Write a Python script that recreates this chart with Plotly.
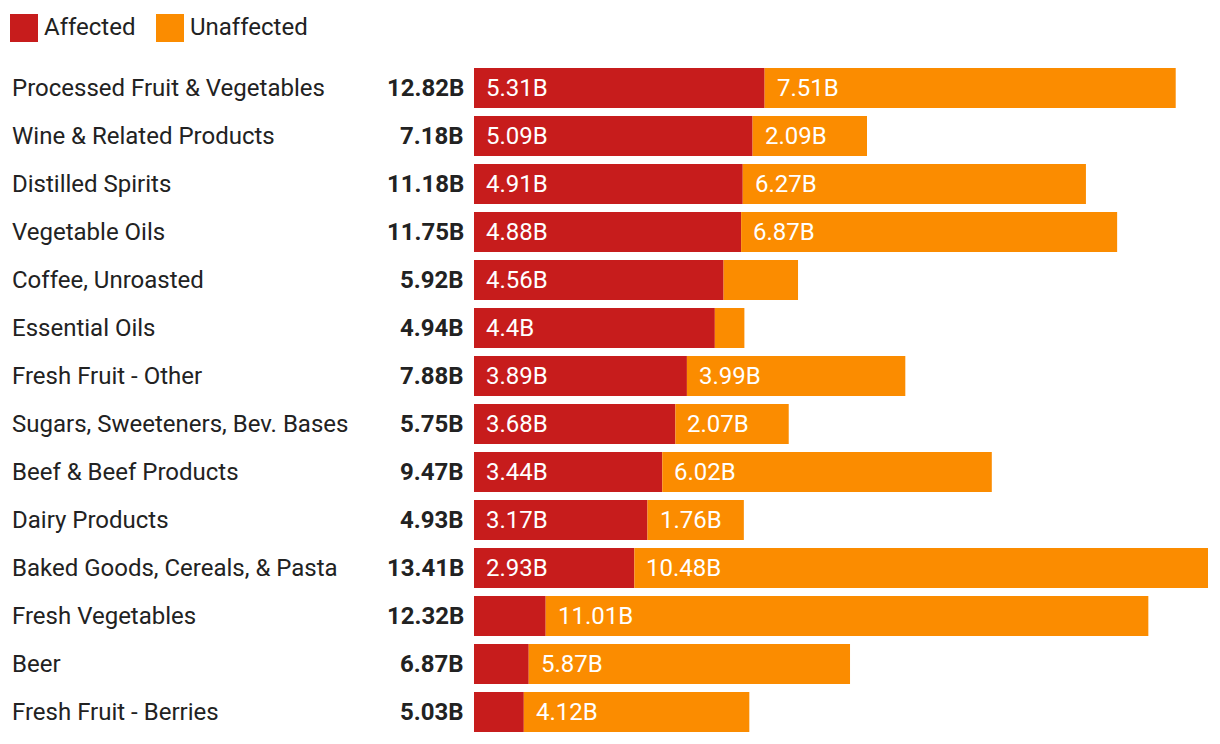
import plotly.graph_objects as go

categories = [
    "Processed Fruit & Vegetables", "Wine & Related Products", "Distilled Spirits",
    "Vegetable Oils", "Coffee, Unroasted", "Essential Oils", "Fresh Fruit - Other",
    "Sugars, Sweeteners, Bev. Bases", "Beef & Beef Products", "Dairy Products",
    "Baked Goods, Cereals, & Pasta", "Fresh Vegetables", "Beer", "Fresh Fruit - Berries",
]
affected = [5.31, 5.09, 4.91, 4.88, 4.56, 4.4, 3.89, 3.68, 3.44, 3.17, 2.93, 1.31, 1.00, 0.91]
unaffected = [7.51, 2.09, 6.27, 6.87, 1.36, 0.54, 3.99, 2.07, 6.02, 1.76, 10.48, 11.01, 5.87, 4.12]
totals = [12.82, 7.18, 11.18, 11.75, 5.92, 4.94, 7.88, 5.75, 9.47, 4.93, 13.41, 12.32, 6.87, 5.03]

RED = "#c71c1c"
ORANGE = "#fb8c00"
FONT = "Roboto"
FS = 24
W, H = 1220, 744
ML, MR, MT, MB = 474, 12, 64, 8
MIN_LABEL = 1.5  # values narrower than this have no inside label


def fmt(v):
    s = f"{v:.2f}".rstrip("0").rstrip(".")
    return s + "B"


fig = go.Figure()
fig.add_trace(go.Bar(y=categories, x=affected, orientation="h", marker_color=RED,
                     marker_line_width=0, name="Affected", hoverinfo="skip"))
fig.add_trace(go.Bar(y=categories, x=unaffected, base=affected, orientation="h",
                     marker_color=ORANGE, marker_line_width=0, name="Unaffected",
                     hoverinfo="skip"))

pw = W - ML - MR
ph = H - MT - MB


def px(pix):
    return (pix - ML) / pw


def py(pix):
    return (H - MB - pix) / ph


ann = []
for c, a, u, t in zip(categories, affected, unaffected, totals):
    ann.append(dict(xref="paper", yref="y", x=px(10), y=c, text=c,
                    xanchor="left", yanchor="middle", showarrow=False,
                    font=dict(family=FONT, size=FS, color="#222222")))
    ann.append(dict(xref="paper", yref="y", x=px(466), y=c, text=f"<b>{fmt(t)}</b>",
                    xanchor="right", yanchor="middle", showarrow=False,
                    font=dict(family=FONT, size=FS, color="#222222")))
    if a >= MIN_LABEL:
        ann.append(dict(xref="x", yref="y", x=0, y=c, text=fmt(a), xshift=10,
                        xanchor="left", yanchor="middle", showarrow=False,
                        font=dict(family=FONT, size=FS, color="white")))
    if u >= MIN_LABEL:
        ann.append(dict(xref="x", yref="y", x=a, y=c, text=fmt(u), xshift=10,
                        xanchor="left", yanchor="middle", showarrow=False,
                        font=dict(family=FONT, size=FS, color="white")))

# legend
shapes = []
for x0, col, label in [(10, RED, "Affected"), (156, ORANGE, "Unaffected")]:
    shapes.append(dict(type="rect", xref="paper", yref="paper",
                       x0=px(x0), x1=px(x0 + 28),
                       y0=py(42), y1=py(14), fillcolor=col, line_width=0))
    ann.append(dict(xref="paper", yref="paper", x=px(x0 + 32), y=py(27),
                    text=label, xanchor="left", yanchor="middle", showarrow=False,
                    font=dict(family=FONT, size=FS, color="#222222")))

fig.update_layout(
    width=W, height=H, barmode="overlay", bargap=1 / 6,
    margin=dict(l=ML, r=MR, t=MT, b=MB),
    paper_bgcolor="white", plot_bgcolor="white", showlegend=False,
    xaxis=dict(range=[0, max(totals)], visible=False, fixedrange=True),
    yaxis=dict(autorange="reversed", visible=False, fixedrange=True),
    annotations=ann, shapes=shapes,
    font=dict(family=FONT),
)
fig.write_html("out.html", config={"displayModeBar": False})
